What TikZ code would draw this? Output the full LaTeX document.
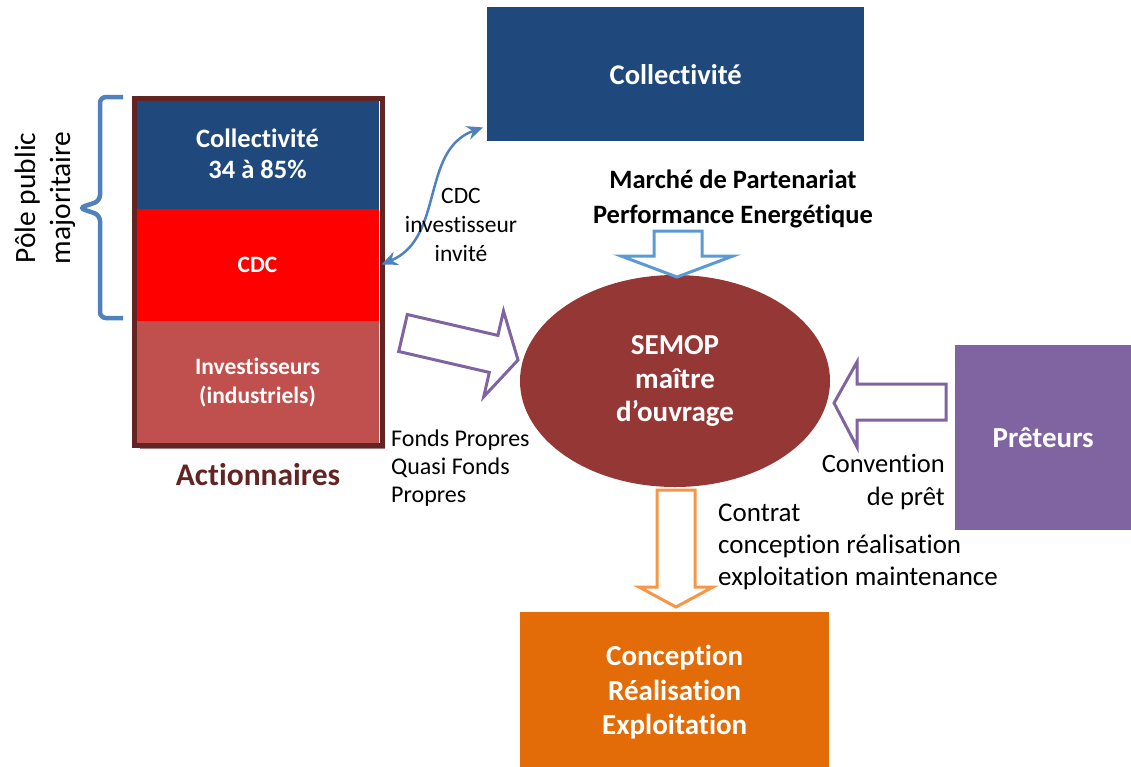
\documentclass[tikz,border=0pt]{standalone}
\usepackage{fontspec}
\setmainfont[Ligatures={CommonOff}]{Carlito}
\usetikzlibrary{shapes.geometric,arrows.meta}
\definecolor{dblue}{HTML}{1F497D}
\definecolor{cred}{HTML}{FF0000}
\definecolor{invred}{HTML}{C0504D}
\definecolor{brownb}{HTML}{632523}
\definecolor{semop}{HTML}{953735}
\definecolor{purp}{HTML}{8064A2}
\definecolor{orng}{HTML}{E36C09}
\definecolor{lorng}{HTML}{F79646}
\definecolor{mblue}{HTML}{4F81BD}
\definecolor{lblue}{HTML}{5B9BD5}
\tikzset{
  whitebold/.style 2 args={text=white, font=\bfseries\fontsize{#1}{#2}\selectfont, align=center},
  seg/.style={inner sep=0, outer sep=0, minimum width=243, anchor=north west},
  lbl/.style 2 args={font=\fontsize{#1}{#2}\selectfont, inner sep=0},
  blockarrow/.style={line width=3, line join=miter, fill=white},
}
\begin{document}
\begin{tikzpicture}[x=1pt, y=-1pt]
\useasboundingbox (0,0) rectangle (1131,766);

% top Collectivite
\node[fill=dblue, minimum width=377, minimum height=134, inner sep=0, anchor=north west,
      whitebold={28.5}{33}] (coll) at (487,7) {Collectivité};

% stacked actionnaires box
\node[seg, fill=dblue, minimum height=110, whitebold={26.5}{31}] (scoll) at (136,98.5) {Collectivité\\34 à 85\%};
\node[seg, fill=cred, minimum height=112, whitebold={23.5}{26}] (scdc) at (136,208.5) {CDC};
\node[seg, fill=invred, minimum height=125, whitebold={23.5}{29}] (sinv) at (136,320.5) {Investisseurs\\(industriels)};
\draw[brownb!60, line width=2] (140,448) -- (385,448);
\draw[brownb, line width=5] (134.5,98.5) rectangle (382.5,445.5);
\node[font=\bfseries\fontsize{31.5}{36}\selectfont, text=brownb] (act) at (258,475) {Actionnaires};

% brace
\draw[mblue, line width=4.5, rounded corners=6] (123,97) -- (100,97) -- (100,201) -- (79,208) -- (100,215) -- (100,318) -- (123,318);
\node[lbl={29.5}{35}, rotate=90, align=center] (pole) at (45,198) {Pôle public\\majoritaire};

% curved double arrow
\coordinate (ctop) at ([xshift=-4,yshift=14]coll.south west);
\draw[mblue, line width=2.5, {Stealth[length=16,width=14]}-{Stealth[length=16,width=14]}]
  ([xshift=2.5]scdc.east) .. controls (445,238) and (420,150) .. (ctop);
\node[lbl={23.5}{29}, align=center] (cdcinv) at (461,225) {CDC\\investisseur\\invité};

% Marche text
\node[font=\bfseries\fontsize{26.5}{35}\selectfont, align=center] (marche) at (733,199) {Marché de Partenariat\\Performance Energétique};

% ellipse
\node[ellipse, fill=semop, minimum width=310, minimum height=212, inner sep=0, whitebold={29}{33.5}] (sem) at (675,381) {SEMOP\\maître\\d’ouvrage};

% down blue block arrow
\draw[blockarrow, draw=lblue] (654,231) -- (702,231) -- (702,256) -- (733,256) -- (677,277) -- (621,256) -- (654,256) -- cycle;

% purple tilted arrow
\draw[blockarrow, draw=purp] (407.3,314.5) -- (497.9,335.4) -- (503.5,311.0) -- (518,360) -- (483.7,396.8) -- (489.3,372.4) -- (398.7,351.5) -- cycle;
\node[lbl={24}{28}, align=left, anchor=north west] (fonds) at (391,430) {Fonds Propres\\Quasi Fonds\\Propres};

% Preteurs
\node[fill=purp, minimum width=176, minimum height=185, inner sep=0, anchor=north west, whitebold={29}{33}] (pret) at (955,345) {Prêteurs};
\draw[blockarrow, draw=purp] (946,384) -- (946,420) -- (857,420) -- (857,447) -- (834,403) -- (857,362) -- (857,384) -- cycle;
\node[lbl={26.5}{33}, align=right, anchor=north east] (conv) at (945,454) {Convention\\de prêt};

% orange down arrow
\draw[blockarrow, draw=lorng] (657,490) -- (695,490) -- (695,587) -- (713,587) -- (676,607) -- (639,587) -- (657,587) -- cycle;
\node[lbl={27}{32}, align=left, anchor=north west] (contrat) at (718,504) {Contrat\\conception réalisation\\exploitation maintenance};

% bottom orange box
\node[fill=orng, minimum width=309, minimum height=160, inner sep=0, anchor=north west, whitebold={29}{34.5}] (conc) at (520,612) {Conception\\Réalisation\\Exploitation};
\end{tikzpicture}
\end{document}
